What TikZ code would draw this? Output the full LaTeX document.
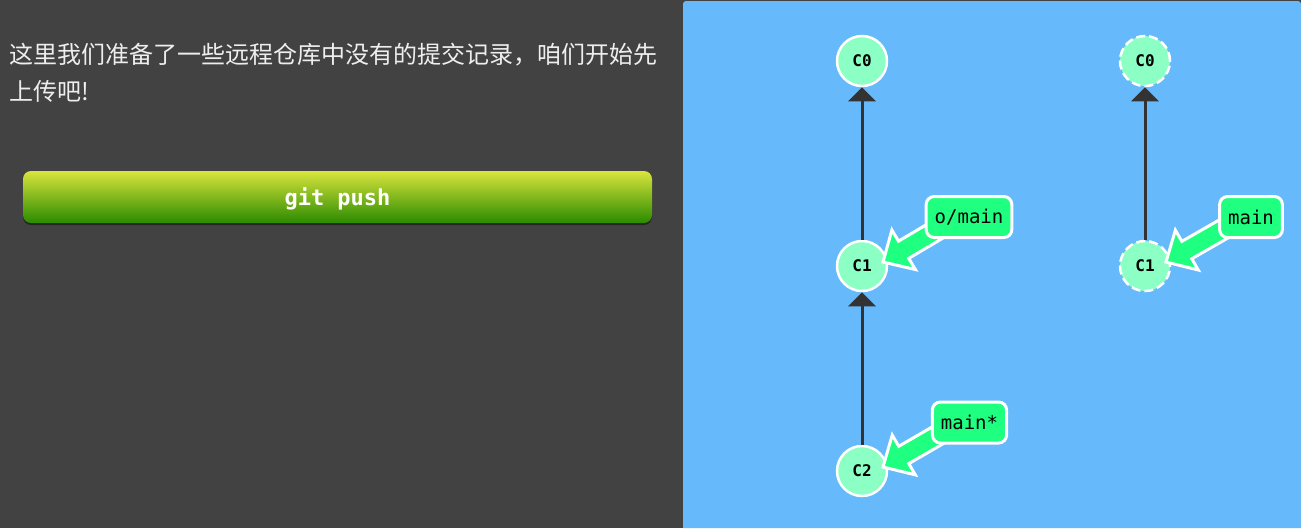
\documentclass[tikz,border=0pt]{standalone}
\usepackage{fontspec}
\newfontfamily\cjkfont{Noto Sans CJK SC}
\newfontfamily\monof{DejaVu Sans Mono}
\usetikzlibrary{arrows.meta,calc}
\definecolor{bgdark}{HTML}{424242}
\definecolor{panelblue}{HTML}{66B9FA}
\definecolor{commitfill}{HTML}{8CFFC4}
\definecolor{branchfill}{HTML}{1FFF80}
\definecolor{edgecol}{HTML}{333333}
\definecolor{btntop}{HTML}{D8E53C}
\definecolor{btnbot}{HTML}{2B8A00}
\definecolor{txtcol}{HTML}{EEEEEE}
\newcommand\drawfatarrow[3]{%
  \coordinate (#3h) at ($(#1)!24pt!(#2)$);
  \draw[fatarrow] (#1) -- ($(#3h)!23pt!90:(#2)$) -- ($(#3h)!10pt!90:(#2)$)
    -- ($(#2)!10pt!-90:(#3h)$) -- ($(#2)!10pt!90:(#3h)$)
    -- ($(#3h)!10pt!-90:(#2)$) -- ($(#3h)!23pt!-90:(#2)$) -- cycle;}
\begin{document}
\begin{tikzpicture}[x=1pt,y=-1pt,
  commit/.style={circle, minimum size=50pt, inner sep=0pt, fill=commitfill,
    draw=white, line width=2.5pt, font=\monof\bfseries\fontsize{16}{16}\selectfont},
  ghost/.style={commit, dash pattern=on 9pt off 4pt},
  branch/.style={rounded corners=8pt, fill=branchfill, draw=white, line width=3pt,
    minimum height=41pt, inner xsep=8.5pt, inner ysep=0pt,
    font=\monof\fontsize{19}{19}\selectfont},
  parent/.style={draw=edgecol, line width=3pt, -{Triangle[width=27pt,length=14pt]}},
  fatarrow/.style={fill=branchfill, draw=white, line width=3pt, line join=miter},
  cjktext/.style={anchor=base west, inner sep=0pt, text=txtcol,
    font=\cjkfont\fontsize{24}{24}\selectfont},
  button/.style={rounded corners=8pt, minimum width=629pt, minimum height=52pt,
    text depth=0pt, top color=btntop, bottom color=btnbot, text=white,
    font=\monof\bfseries\fontsize{22}{22}\selectfont}
]
\useasboundingbox (0,0) rectangle (1301,528);
\fill[bgdark] (0,0) rectangle (1301,528);
\fill[panelblue] (1301,528) -- (683,528) {[rounded corners=3pt] -- (683,1) -- (1301,1)} -- cycle;

% left text
\node[cjktext] (l1) at (9,63) {这里我们准备了一些远程仓库中没有的提交记录，咱们开始先};
\node[cjktext] (l2) at (9,100) {上传吧!};

% button
\fill[black!85, rounded corners=8pt] (23,174) rectangle (652,225);
\node[button] (btn) at (337.5,197) {git push};

% local repo
\node[commit] (c0) at (862,61) {C0};
\node[commit] (c1) at (862,266) {C1};
\node[commit] (c2) at (862,471) {C2};
\draw[parent] (c1) -- (c0);
\draw[parent] (c2) -- (c1);

% remote repo
\node[ghost] (r0) at (1145,61) {C0};
\node[ghost] (r1) at (1145,266) {C1};
\draw[parent] (r1) -- (r0);

% branch labels
\coordinate (omt) at (969,217);
\coordinate (omtip) at ($(c1.center)+(21,-4)$);
\coordinate (omtail) at ($(omt)+(-27,10)$);
\drawfatarrow{omtip}{omtail}{oma}
\node[branch] (om) at (omt) {o/main};

\coordinate (rmt) at (1251,217);
\coordinate (rmtip) at ($(r1.center)+(21,-4)$);
\coordinate (rmtail) at ($(rmt)+(-24,10)$);
\drawfatarrow{rmtip}{rmtail}{rma}
\node[branch] (rm) at (rmt) {main};

\coordinate (mst) at (969.5,422.5);
\coordinate (mstip) at ($(c2.center)+(21,-4)$);
\coordinate (mstail) at ($(mst)+(-27,10)$);
\drawfatarrow{mstip}{mstail}{msa}
\node[branch] (ms) at (mst) {main*};
\end{tikzpicture}
\end{document}
